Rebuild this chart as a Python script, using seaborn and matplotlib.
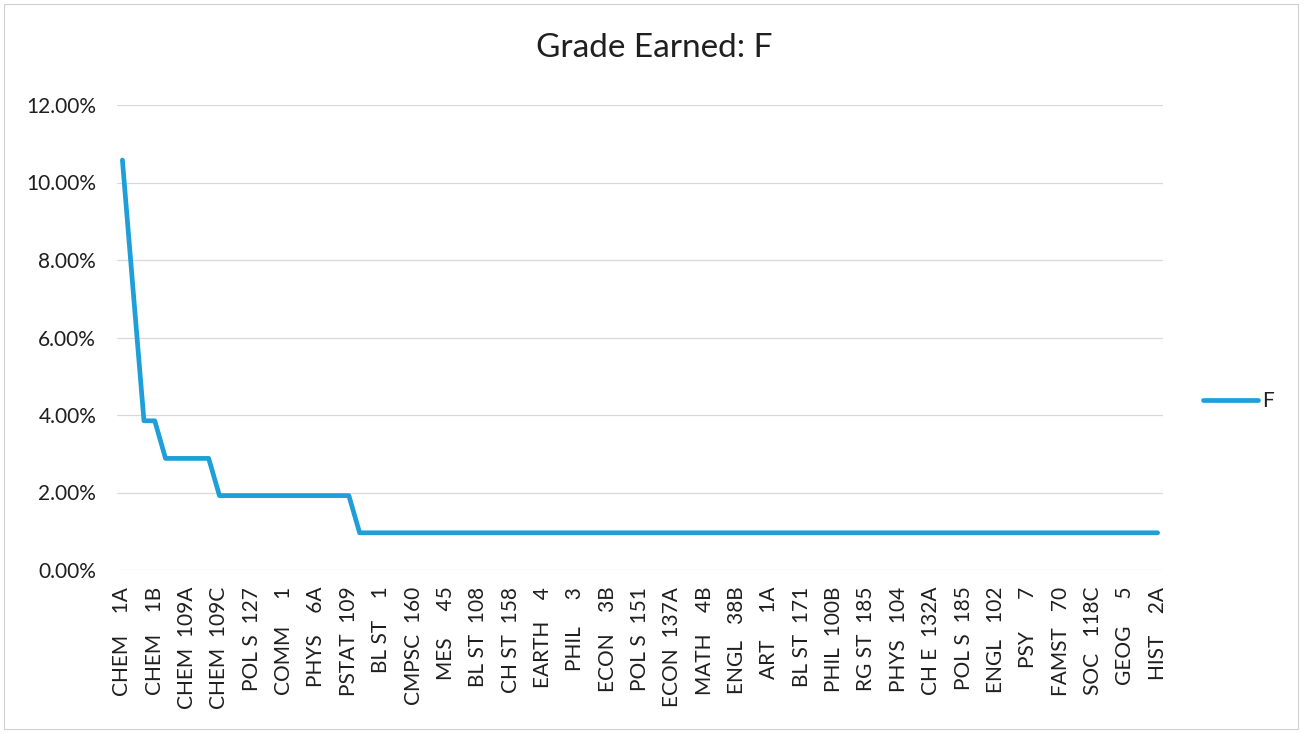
import numpy as np
import pandas as pd
import matplotlib
matplotlib.use("Agg")
import matplotlib.pyplot as plt
import seaborn as sns
from matplotlib.ticker import FuncFormatter
from matplotlib.patches import Rectangle

# ---- data (percent of students earning F, courses sorted descending) ----
f_percent = [
    10.58, 7.20, 3.85, 3.85, 2.88, 2.88, 2.88, 2.88, 2.88, 1.92,
    1.92, 1.92, 1.92, 1.92, 1.92, 1.92, 1.92, 1.92, 1.92, 1.92,
    1.92, 1.92, 0.96, 0.96, 0.96, 0.96, 0.96, 0.96, 0.96, 0.96,
    0.96, 0.96, 0.96, 0.96, 0.96, 0.96, 0.96, 0.96, 0.96, 0.96,
    0.96, 0.96, 0.96, 0.96, 0.96, 0.96, 0.96, 0.96, 0.96, 0.96,
    0.96, 0.96, 0.96, 0.96, 0.96, 0.96, 0.96, 0.96, 0.96, 0.96,
    0.96, 0.96, 0.96, 0.96, 0.96, 0.96, 0.96, 0.96, 0.96, 0.96,
    0.96, 0.96, 0.96, 0.96, 0.96, 0.96, 0.96, 0.96, 0.96, 0.96,
    0.96, 0.96, 0.96, 0.96, 0.96, 0.96, 0.96, 0.96, 0.96, 0.96,
    0.96, 0.96, 0.96, 0.96, 0.96, 0.96, 0.96,
]

# visible category labels (every third course is labelled)
label_subjects = [
    "CHEM", "CHEM", "CHEM", "CHEM", "POL S", "COMM", "PHYS", "PSTAT",
    "BL ST", "CMPSC", "MES", "BL ST", "CH ST", "EARTH", "PHIL", "ECON",
    "POL S", "ECON", "MATH", "ENGL", "ART", "BL ST", "PHIL", "RG ST",
    "PHYS", "CH E", "POL S", "ENGL", "PSY", "FAMST", "SOC", "GEOG", "HIST",
]
label_numbers = [
    "1A", "1B", "109A", "109C", "127", "1", "6A", "109",
    "1", "160", "45", "108", "158", "4", "3", "3B",
    "151", "137A", "4B", "38B", "1A", "171", "100B", "185",
    "104", "132A", "185", "102", "7", "70", "118C", "5", "2A",
]
label_step = 3
series_name = "F"
title = "Grade Earned: F"

# ---- styling ----
sns.set_theme(style="white")
plt.rcParams["font.family"] = ["Lato", "DejaVu Sans"]
text_color = "#1f1f1f"
line_color = "#1E9FD9"

df = pd.DataFrame({"idx": np.arange(len(f_percent)), "pct": f_percent})

fig = plt.figure(figsize=(13.06, 7.33), dpi=100)
ax = fig.add_axes([117 / 1306, 1 - 570 / 733, (1163 - 117) / 1306, (570 - 105) / 733])

sns.lineplot(data=df, x="idx", y="pct", ax=ax, color=line_color, linewidth=3.4,
             label=series_name, solid_capstyle="round", solid_joinstyle="round")

ax.set_xlim(-0.5, len(f_percent) - 0.5)
ax.set_ylim(0, 12)
ax.set_yticks(np.arange(0, 12.01, 2))
ax.yaxis.set_major_formatter(FuncFormatter(lambda v, p: f"{v:.2f}%"))

tick_pos = np.arange(0, len(f_percent), label_step)[: len(label_subjects)]
tick_txt = [f"{s:<5} {n:>4}" for s, n in zip(label_subjects, label_numbers)]
ax.set_xticks(tick_pos)
ax.set_xticklabels(tick_txt, rotation=90, fontsize=15, color=text_color)
ax.tick_params(axis="x", length=0, pad=12)
ax.tick_params(axis="y", length=0, pad=15, labelsize=15, labelcolor=text_color)
ax.set_xlabel("")
ax.set_ylabel("")

ax.grid(axis="y", color="#d9d9d9", linewidth=0.9)
ax.grid(axis="x", visible=False)
for sp in ax.spines.values():
    sp.set_visible(False)

leg = ax.legend(loc="center left", bbox_to_anchor=(1.038, 0.363), frameon=False,
                borderaxespad=0, borderpad=0, handlelength=2.65, handletextpad=0.2,
                fontsize=15)
for t in leg.get_texts():
    t.set_color(text_color)

fig.text(654 / 1306, 1 - 48 / 733, title, ha="center", va="center",
         fontsize=24, color=text_color)

fig.patches.append(Rectangle((4 / 1306, 4 / 733), 1294 / 1306, 725 / 733,
                             transform=fig.transFigure, fill=False,
                             edgecolor="#d0d0d0", linewidth=0.8))

fig.savefig("out.png", dpi=100)
